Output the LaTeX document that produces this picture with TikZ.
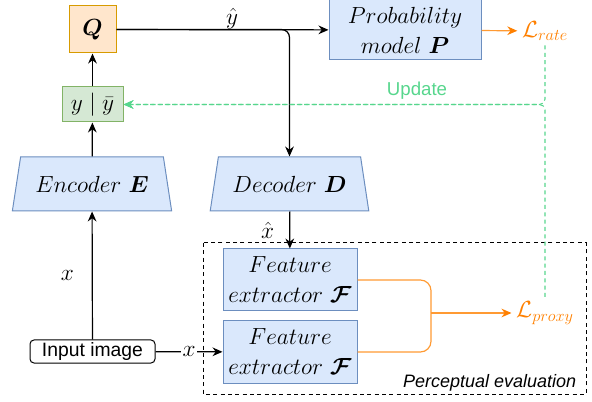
\RequirePackage{fix-cm}
\documentclass[tikz,border=0pt]{standalone}
\usepackage{amssymb}
\usepackage{amsmath}
\usepackage{fontspec}
\newfontfamily\helvfont{Liberation Sans}
\usepackage{tikz}
\usetikzlibrary{shapes.geometric,arrows.meta}
\definecolor{bluefill}{HTML}{DAE8FC}
\definecolor{bluedraw}{HTML}{6C8EBF}
\definecolor{orangefill}{HTML}{FFE6CC}
\definecolor{orangedraw}{HTML}{D79B00}
\definecolor{greenfill}{HTML}{D5E8D4}
\definecolor{greendraw}{HTML}{82B366}
\definecolor{lossorange}{HTML}{FF8000}
\definecolor{lineorange}{HTML}{FF9A33}
\definecolor{updategreen}{HTML}{57D68D}

\begin{document}
\begin{tikzpicture}[x=0.75pt,y=-0.75pt,
    mathfont/.style={font={\fontsize{17.5}{22.5}\selectfont}},
    block/.style={draw=bluedraw,fill=bluefill,line width=0.75pt,mathfont,align=center,inner sep=0pt},
    trap/.style={block,trapezium,trapezium stretches=true,trapezium left angle=68,trapezium right angle=68,minimum width=120pt,minimum height=40.5pt},
    arr/.style={line width=0.9pt,-{Stealth[length=7.5pt,width=6.5pt]}},
    lossarr/.style={draw=lineorange,line width=0.9pt,-{Stealth[length=7.5pt,width=6.5pt,color=lossorange]}},
    updarr/.style={draw=updategreen,line width=0.8pt,dash pattern=on 3pt off 2.5pt,rounded corners=4pt,-{Stealth[length=7.5pt,width=6.5pt]}},
    loss/.style={text=lossorange,mathfont}]
    \useasboundingbox (0,0) rectangle (592,402);
    \draw[dash pattern=on 3pt off 2.5pt,line width=0.75pt] (203,243) rectangle (586,394);
    \node[anchor=east,font={\helvfont\itshape\fontsize{13.5}{16}\selectfont}] (evallabel) at (581,383) {Perceptual evaluation};
    \node[draw=orangedraw,fill=orangefill,line width=0.75pt,minimum size=35.25pt,mathfont,inner sep=0pt] (Q) at (92.5,29.5) {$\boldsymbol{Q}$};
    \node[draw=greendraw,fill=greenfill,line width=0.75pt,minimum width=45.75pt,minimum height=26.25pt,mathfont,inner sep=0pt] (ybar) at (92.5,104.5) {$y\mid\bar{y}$};
    \node[trap] (E) at (92,184) {$Encoder\ \boldsymbol{E}$};
    \node[trap] (D) at (289.5,184) {$Decoder\ \boldsymbol{D}$};
    \node[block,minimum width=114pt,minimum height=45pt] (P) at (405,30) {$Probability$\\$model\ \boldsymbol{P}$};
    \node[block,minimum width=100.5pt,minimum height=46.5pt] (FE1) at (290,280) {$Feature$\\$extractor\ \boldsymbol{\mathcal{F}}$};
    \node[block,minimum width=100.5pt,minimum height=46.5pt] (FE2) at (290,352) {$Feature$\\$extractor\ \boldsymbol{\mathcal{F}}$};
    \node[draw,rounded corners=3pt,line width=0.75pt,minimum width=93.75pt,minimum height=17.25pt,inner sep=0pt,font={\helvfont\fontsize{14.5}{17}\selectfont}] (img) at (92.5,351.5) {Input image};
    \node[loss] (Lrate) at (545,31) {$\mathcal{L}_{rate}$};
    \node[loss] (Lproxy) at (545,313) {$\mathcal{L}_{proxy}$};
    \coordinate (merge) at (431,313);
    \draw[arr] (img) -- (E) node[pos=0.5,left=10pt,mathfont] (xlab) {$x$};
    \draw[arr] (E) -- (ybar);
    \draw[arr] (ybar) -- (Q);
    \draw[arr] (Q) -- (P);
    \draw[arr,rounded corners=6pt] (Q.east) -| (D.north);
    \node[mathfont] (yhat) at (232,19) {$\hat{y}$};
    \draw[arr] (D) -- (FE1) node[pos=0.5,left=8pt,mathfont] (xhat) {$\hat{x}$};
    \draw[arr] (img) -- (FE2) node[pos=0.5,fill=white,inner sep=1pt,mathfont] (xlab2) {$x$};
    \draw[lossarr] (P) -- (Lrate);
    \draw[draw=lineorange,line width=0.9pt,rounded corners=8pt] (FE1.east) -| (merge);
    \draw[draw=lineorange,line width=0.9pt,rounded corners=8pt] (FE2.east) -| (merge);
    \draw[lossarr] (merge) -- (Lproxy);
    \draw[updarr] (Lrate.south) |- (ybar.east);
    \draw[updarr] (Lproxy.north) |- (ybar.east);
    \node[text=updategreen,font={\helvfont\fontsize{14}{16}\selectfont}] (upd) at (417,91) {Update};
\end{tikzpicture}
\end{document}
